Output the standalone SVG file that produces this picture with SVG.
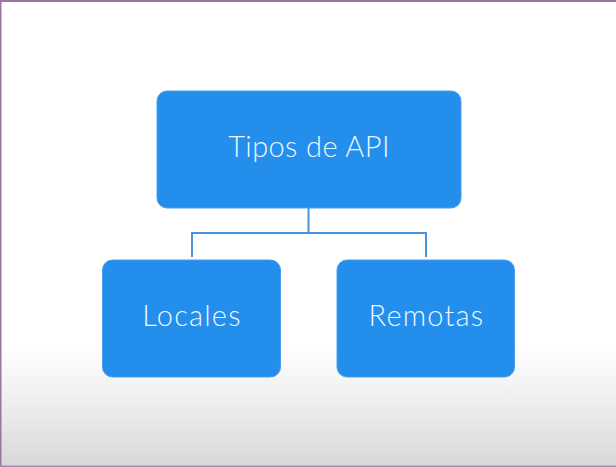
<svg xmlns="http://www.w3.org/2000/svg" width="616" height="467" viewBox="0 0 616 467">
  <defs>
    <linearGradient id="bg" x1="0" y1="0" x2="0" y2="1">
      <stop offset="0" stop-color="#ffffff"/>
      <stop offset="0.74" stop-color="#ffffff"/>
      <stop offset="0.82" stop-color="#f4f4f4"/>
      <stop offset="1" stop-color="#d8d8d8"/>
    </linearGradient>
  </defs>
  <style>
    .box { fill: #238eeb; stroke: #4a9ee8; stroke-width: 1; }
    .lbl { fill: #eef6ff; font-family: Lato, "Open Sans", "Liberation Sans", sans-serif; font-weight: 300; text-anchor: middle; }
    .conn { fill: none; stroke: #4a94dc; stroke-width: 2; }
  </style>
  <rect x="0" y="0" width="616" height="467" fill="url(#bg)"/>
  <rect x="0" y="0" width="616" height="2" fill="#9c74a2"/>
  <rect x="0" y="0" width="1.5" height="467" fill="#9c74a2"/>
  <rect x="0" y="465.5" width="616" height="1.5" fill="#a88aa8"/>
  <g id="connectors">
    <path class="conn" d="M308.5 208 V233 M192 257 V233 H426 V257"/>
  </g>
  <g id="node-tipos">
    <rect class="box" x="157" y="91" width="304" height="117" rx="10"/>
    <text class="lbl" x="309" y="157" font-size="29" letter-spacing="0.4">Tipos de API</text>
  </g>
  <g id="node-locales">
    <rect class="box" x="102.5" y="260" width="178" height="117" rx="10"/>
    <text class="lbl" x="192" y="326" font-size="29" letter-spacing="1.2">Locales</text>
  </g>
  <g id="node-remotas">
    <rect class="box" x="337" y="260" width="177.5" height="117" rx="10"/>
    <text class="lbl" x="426.5" y="326" font-size="29" letter-spacing="1.2">Remotas</text>
  </g>
</svg>
